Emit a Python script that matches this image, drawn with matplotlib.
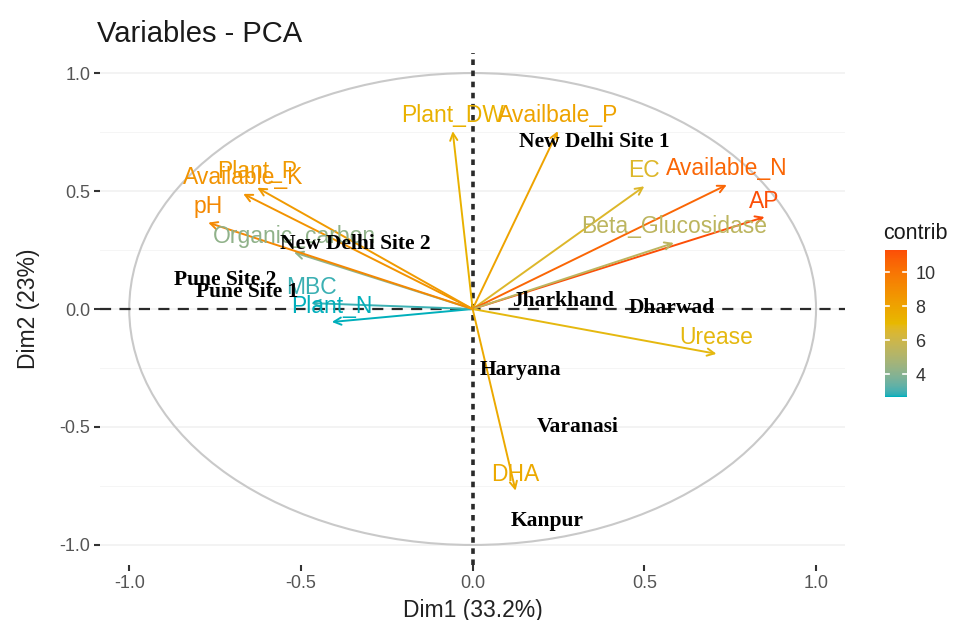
import numpy as np
import matplotlib
matplotlib.use("Agg")
import matplotlib.pyplot as plt
from matplotlib.colors import ListedColormap, Normalize, to_rgb
from matplotlib.patches import Circle
import matplotlib.cm as cm

# Variable loadings on the first two principal components
variables = ["Plant_DW", "Availbale_P", "EC", "Available_N", "AP",
             "Beta_Glucosidase", "Urease", "DHA", "Plant_N", "MBC",
             "Organic_carbon", "pH", "Available_K", "Plant_P"]
dim1 = [-0.058, 0.248, 0.500, 0.740, 0.850, 0.586, 0.710, 0.125,
        -0.410, -0.470, -0.520, -0.770, -0.668, -0.627]
dim2 = [0.754, 0.754, 0.520, 0.526, 0.390, 0.280, -0.190, -0.770,
        -0.055, 0.025, 0.240, 0.366, 0.488, 0.514]
contrib = [7.3, 8.0, 6.6, 10.5, 11.3, 5.4, 6.9, 7.7,
           2.65, 2.9, 4.2, 9.2, 8.7, 8.4]

# Sampling sites
sites = ["New Delhi Site 1", "New Delhi Site 2", "Pune Site 2", "Pune Site 1",
         "Jharkhand", "Dharwad", "Haryana", "Varanasi", "Kanpur"]
site_x = [0.354, -0.343, -0.722, -0.656, 0.262, 0.580, 0.138, 0.306, 0.216]
site_y = [0.707, 0.274, 0.122, 0.072, 0.034, 0.004, -0.260, -0.500, -0.897]

ticks = [-1.0, -0.5, 0.0, 0.5, 1.0]
tick_labels = ["-1.0", "-0.5", "0.0", "0.5", "1.0"]
minor_y = [-0.75, -0.25, 0.25, 0.75]
gradient_colours = ["#00AFBB", "#E7B800", "#FC4E07"]


# --- gradient interpolated in CIE Lab space -------------------------------
def _srgb_to_lin(c):
    c = np.asarray(c)
    return np.where(c <= 0.04045, c / 12.92, ((c + 0.055) / 1.055) ** 2.4)


def _lin_to_srgb(c):
    c = np.clip(c, 0, 1)
    return np.where(c <= 0.0031308, 12.92 * c, 1.055 * c ** (1 / 2.4) - 0.055)


_M = np.array([[0.4124, 0.3576, 0.1805],
               [0.2126, 0.7152, 0.0722],
               [0.0193, 0.1192, 0.9505]])
_WHITE = np.array([0.95047, 1.0, 1.08883])


def _rgb_to_lab(rgb):
    xyz = _M @ _srgb_to_lin(rgb) / _WHITE
    f = np.where(xyz > 0.008856, np.cbrt(xyz), 7.787 * xyz + 16 / 116)
    return np.array([116 * f[1] - 16, 500 * (f[0] - f[1]), 200 * (f[1] - f[2])])


def _lab_to_rgb(lab):
    fy = (lab[0] + 16) / 116
    fx = fy + lab[1] / 500
    fz = fy - lab[2] / 200
    f = np.array([fx, fy, fz])
    xyz = np.where(f ** 3 > 0.008856, f ** 3, (f - 16 / 116) / 7.787) * _WHITE
    return _lin_to_srgb(np.linalg.solve(_M, xyz))


def lab_colormap(colours, n=256):
    labs = [_rgb_to_lab(to_rgb(c)) for c in colours]
    pos = np.linspace(0, 1, len(labs))
    out = []
    for t in np.linspace(0, 1, n):
        i = min(np.searchsorted(pos, t, side="right") - 1, len(labs) - 2)
        w = (t - pos[i]) / (pos[i + 1] - pos[i])
        out.append(_lab_to_rgb((1 - w) * labs[i] + w * labs[i + 1]))
    return ListedColormap(np.clip(out, 0, 1))


plt.rcParams["lines.scale_dashes"] = False
sans = ["Liberation Sans", "DejaVu Sans"]
serif = ["Liberation Serif", "DejaVu Serif"]

fig = plt.figure(figsize=(9.76, 6.2), dpi=100)
ax = fig.add_axes([0.1025, 0.0887, 0.7635, 0.8258])

lim = 1.085
ax.set_xlim(-lim, lim)
ax.set_ylim(-lim, lim)

# background grid (horizontal only)
for y in ticks:
    ax.axhline(y, color="#F0F0F0", lw=1.1, zorder=0)
for y in minor_y:
    ax.axhline(y, color="#F5F5F5", lw=0.7, zorder=0)

# correlation circle
ax.add_patch(Circle((0, 0), 1.0, fill=False, ec="#C9C9C9", lw=1.5, zorder=1))

# reference lines through the origin
ax.axhline(0, color="#2A2A2A", lw=1.6, dashes=(8, 6), zorder=2)
ax.axvline(0, color="#2A2A2A", lw=2.6, dashes=(4, 4), zorder=2)

cmap = lab_colormap(gradient_colours)
norm = Normalize(vmin=min(contrib), vmax=max(contrib))

for name, x, y, c in zip(variables, dim1, dim2, contrib):
    col = cmap(norm(c))
    ax.annotate("", xy=(x, y), xytext=(0, 0),
                arrowprops=dict(arrowstyle="->", color=col, lw=1.4,
                                mutation_scale=13, shrinkA=0, shrinkB=0),
                zorder=3)
    ax.annotate(name, xy=(x, y), xytext=(0, 11.5), textcoords="offset points",
                ha="center", va="center", color=col, fontsize=16.5,
                family=sans, zorder=4)

for name, x, y in zip(sites, site_x, site_y):
    ax.text(x, y, name, ha="center", va="center", color="black",
            fontsize=15.5, fontweight="bold", family=serif, zorder=5)

for s in ax.spines.values():
    s.set_visible(False)
ax.set_xticks(ticks)
ax.set_xticklabels(tick_labels)
ax.set_yticks(ticks)
ax.set_yticklabels(tick_labels)
ax.tick_params(axis="both", colors="#333333", labelcolor="#555555",
               labelsize=13, length=4, width=1.5, pad=3)
for lbl in ax.get_xticklabels() + ax.get_yticklabels():
    lbl.set_family(sans)

ax.set_xlabel("Dim1 (33.2%)", fontsize=16.5, family=sans, color="#222222", labelpad=5)
ax.set_ylabel("Dim2 (23%)", fontsize=16.5, family=sans, color="#222222", labelpad=14)

fig.text(0.099, 0.945, "Variables - PCA", fontsize=21, family=sans,
         color="#1A1A1A", ha="left", va="center")

# colour bar for contributions
cax = fig.add_axes([0.9068, 0.3597, 0.0225, 0.237])
sm = cm.ScalarMappable(norm=norm, cmap=cmap)
cb = fig.colorbar(sm, cax=cax)
cb.outline.set_visible(False)
cb.set_ticks([4, 6, 8, 10])
cax.tick_params(length=0, labelsize=13, labelcolor="#333333", pad=6)
for lbl in cax.get_yticklabels():
    lbl.set_family(sans)
for v in [4, 6, 8, 10]:
    cax.plot([0, 0.2], [v, v], color="white", lw=1.2, transform=cax.get_yaxis_transform())
    cax.plot([0.8, 1.0], [v, v], color="white", lw=1.2, transform=cax.get_yaxis_transform())
fig.text(0.905, 0.624, "contrib", fontsize=15.5, family=sans, color="#1A1A1A",
         ha="left", va="center")

fig.savefig("out.png", dpi=100)
